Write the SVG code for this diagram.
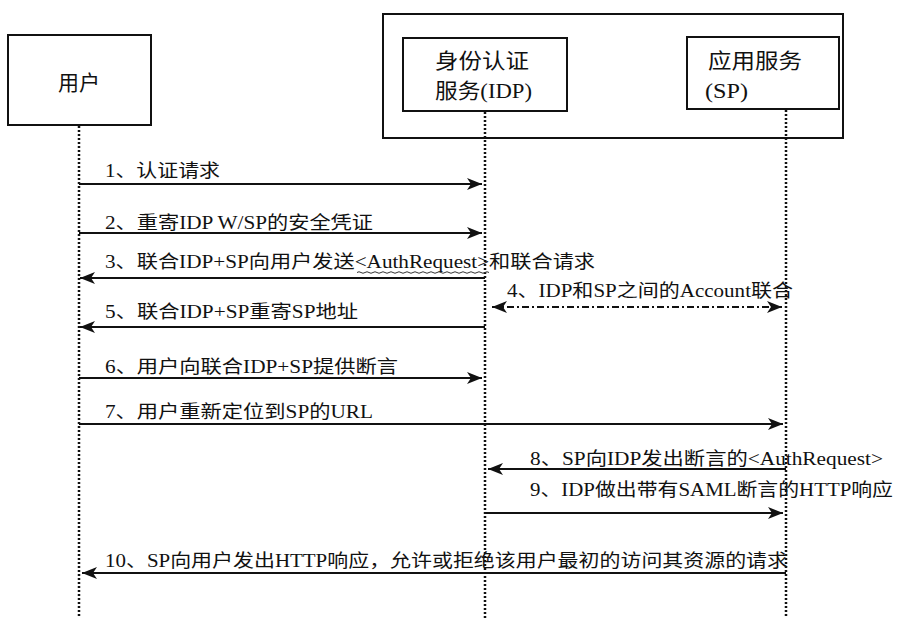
<svg xmlns="http://www.w3.org/2000/svg" width="900" height="618" viewBox="0 0 900 618">
<style>
.box{fill:none;stroke:#111;stroke-width:2}
.life{stroke:#111;stroke-width:2.5;stroke-dasharray:2 2;fill:none}
.msg{stroke:#111;stroke-width:2;fill:none}
.dd{stroke:#111;stroke-width:2;fill:none;stroke-dasharray:7 3 2 3}
text{font-family:"Liberation Serif","Noto Sans CJK SC",serif;fill:#111}
.lbl{font-size:18px}
.node{font-size:21px}
</style>
<defs>
<marker id="ah" viewBox="0 0 15 12" markerWidth="15" markerHeight="12" refX="15" refY="6" orient="auto-start-reverse" markerUnits="userSpaceOnUse">
<path d="M0,0 L15,6 L0,12 L4,6 z" fill="#111"/>
</marker>
</defs>
<rect width="900" height="618" fill="#fff"/>
<g id="federation">
<rect class="box" x="383" y="14" width="460" height="124"/>
</g>
<g id="user">
<rect class="box" x="8" y="35" width="143" height="90"/>
<text class="node" x="79" y="90" text-anchor="middle">用户</text>
<line class="life" x1="79" y1="126" x2="79" y2="618"/>
</g>
<g id="idp">
<rect class="box" x="403" y="38" width="164" height="73"/>
<text class="node" x="435" y="68" textLength="94" lengthAdjust="spacingAndGlyphs">身份认证</text>
<text class="node" x="435" y="98" textLength="97" lengthAdjust="spacingAndGlyphs">服务(IDP)</text>
<line class="life" x1="485" y1="112" x2="485" y2="618"/>
</g>
<g id="sp">
<rect class="box" x="687" y="37" width="152" height="72"/>
<text class="node" x="708" y="68" textLength="94" lengthAdjust="spacingAndGlyphs">应用服务</text>
<text class="node" x="705" y="98" textLength="43" lengthAdjust="spacingAndGlyphs">(SP)</text>
<line class="life" x1="786" y1="110" x2="786" y2="618"/>
</g>
<g id="connectors">
<line class="msg" x1="79" y1="184" x2="482" y2="184" marker-end="url(#ah)"/>
<line class="msg" x1="79" y1="233" x2="482" y2="233" marker-end="url(#ah)"/>
<line class="msg" x1="485" y1="278" x2="80" y2="278" marker-end="url(#ah)"/>
<line class="dd" x1="492" y1="307" x2="782" y2="307" marker-start="url(#ah)" marker-end="url(#ah)"/>
<line class="msg" x1="485" y1="327" x2="80" y2="327" marker-end="url(#ah)"/>
<line class="msg" x1="79" y1="378" x2="482" y2="378" marker-end="url(#ah)"/>
<line class="msg" x1="79" y1="424" x2="783" y2="424" marker-end="url(#ah)"/>
<line class="msg" x1="786" y1="469" x2="488" y2="469" marker-end="url(#ah)"/>
<line class="msg" x1="485" y1="513" x2="783" y2="513" marker-end="url(#ah)"/>
<line class="msg" x1="786" y1="573" x2="82" y2="573" marker-end="url(#ah)"/>
</g>
<g id="labels">
<text class="lbl" x="105" y="177" textLength="115" lengthAdjust="spacingAndGlyphs">1、认证请求</text>
<text class="lbl" x="105" y="229" textLength="268" lengthAdjust="spacingAndGlyphs">2、重寄IDP W/SP的安全凭证</text>
<text class="lbl" x="105" y="268" textLength="490" lengthAdjust="spacingAndGlyphs">3、联合IDP+SP向用户发送<tspan>&lt;AuthRequest&gt;</tspan>和联合请求</text>
<path d="M357,272.5 q2,-1.5 4,0 t4,0 t4,0 t4,0 t4,0 t4,0 t4,0 t4,0 t4,0 t4,0 t4,0 t4,0 t4,0 t4,0 t4,0 t4,0 t4,0 t4,0 t4,0 t4,0 t4,0 t4,0 t4,0 t4,0 t4,0 t4,0 t4,0 t4,0 t4,0 t4,0 t4,0 t4,0 t4,0" fill="none" stroke="#333" stroke-width="1"/>
<text class="lbl" x="507" y="297" textLength="286" lengthAdjust="spacingAndGlyphs">4、IDP和SP之间的Account联合</text>
<text class="lbl" x="105" y="318" textLength="253" lengthAdjust="spacingAndGlyphs">5、联合IDP+SP重寄SP地址</text>
<text class="lbl" x="105" y="373" textLength="293" lengthAdjust="spacingAndGlyphs">6、用户向联合IDP+SP提供断言</text>
<text class="lbl" x="105" y="418" textLength="268" lengthAdjust="spacingAndGlyphs">7、用户重新定位到SP的URL</text>
<text class="lbl" x="530" y="465" textLength="353" lengthAdjust="spacingAndGlyphs">8、SP向IDP发出断言的&lt;AuthRequest&gt;</text>
<text class="lbl" x="530" y="496" textLength="363" lengthAdjust="spacingAndGlyphs">9、IDP做出带有SAML断言的HTTP响应</text>
<text class="lbl" x="105" y="567" textLength="683" lengthAdjust="spacingAndGlyphs">10、SP向用户发出HTTP响应，允许或拒绝该用户最初的访问其资源的请求</text>
</g>
</svg>
